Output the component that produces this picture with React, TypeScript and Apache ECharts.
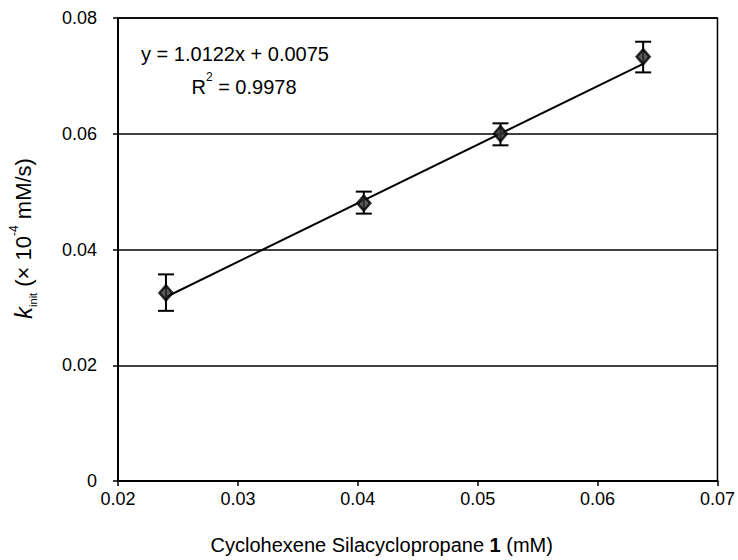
import React, { useEffect, useRef } from "react";
import * as echarts from "echarts";

const concX = [0.024, 0.0405, 0.0519, 0.0638];
const rateY = [0.0325, 0.0480, 0.0600, 0.0733];
const errLow = [0.0294, 0.0462, 0.0580, 0.0706];
const errHigh = [0.0357, 0.0500, 0.0618, 0.0759];
const fitSlope = 1.0122;
const fitIntercept = 0.0075;
const fitRange = [0.024, 0.0638];
const xTicks = [0.02, 0.03, 0.04, 0.05, 0.06, 0.07];
const yTicks = [0, 0.02, 0.04, 0.06, 0.08];

const FONT = "'Liberation Sans', Arial, sans-serif";

export default function App() {
  const ref = useRef<HTMLDivElement>(null);
  useEffect(() => {
    document.body.style.margin = "0";
    if (!ref.current) return;
    const chart = echarts.init(ref.current, null, { renderer: "svg" });
    const points = concX.map((x, i) => [x, rateY[i]]);
    const errData = concX.map((x, i) => [x, errLow[i], errHigh[i]]);
    const fitData = fitRange.map((x) => [x, fitSlope * x + fitIntercept]);
    chart.setOption({
      animation: false,
      backgroundColor: "#fff",
      textStyle: { fontFamily: FONT, color: "#000" },
      grid: {
        left: 112,
        right: 19,
        top: 18,
        bottom: 79,
        show: true,
        borderColor: "#000",
        borderWidth: 1.5,
      },
      xAxis: {
        type: "value",
        min: xTicks[0],
        max: xTicks[xTicks.length - 1],
        interval: 0.01,
        axisLine: { show: true, lineStyle: { color: "#000", width: 2 } },
        axisTick: { show: true, length: 5, lineStyle: { color: "#000", width: 1.5 } },
        splitLine: { show: false },
        axisLabel: {
          color: "#000",
          fontSize: 18,
          fontFamily: FONT,
          margin: 9,
          formatter: (v: number) => v.toFixed(2),
        },
        name: "{n|Cyclohexene Silacyclopropane }{b|1}{n| (mM)}",
        nameLocation: "middle",
        nameGap: 54,
        nameTextStyle: {
          fontFamily: FONT,
          color: "#000",
          fontSize: 20,
          padding: [0, 72, 0, 0],
          rich: {
            n: { fontSize: 20, fontFamily: FONT, color: "#000" },
            b: { fontSize: 20, fontFamily: FONT, color: "#000", fontWeight: "bold" },
          },
        },
      },
      yAxis: {
        type: "value",
        min: yTicks[0],
        max: yTicks[yTicks.length - 1],
        interval: 0.02,
        axisLine: { show: true, lineStyle: { color: "#000", width: 2 } },
        axisTick: { show: true, length: 5, lineStyle: { color: "#000", width: 1.5 } },
        splitLine: { show: true, lineStyle: { color: "#000", width: 1.5 } },
        axisLabel: {
          color: "#000",
          fontSize: 18,
          fontFamily: FONT,
          margin: 21,
          formatter: (v: number) => (v === 0 ? "0" : v.toFixed(2)),
        },
        name: "{k|k}{sub|init}{n| (× 10}{sup|-4}{n| mM/s)}",
        nameLocation: "middle",
        nameGap: 80,
        nameTextStyle: {
          fontFamily: FONT,
          color: "#000",
          fontSize: 22,
          padding: [0, 0, 0, 22],
          rich: {
            k: { fontSize: 24, fontStyle: "italic", fontFamily: FONT, color: "#000", lineHeight: 30, verticalAlign: "middle" },
            sub: { fontSize: 11, fontFamily: FONT, color: "#000", verticalAlign: "bottom", lineHeight: 30 },
            n: { fontSize: 22, fontFamily: FONT, color: "#000", lineHeight: 30, verticalAlign: "middle" },
            sup: { fontSize: 12, fontFamily: FONT, color: "#000", verticalAlign: "top", lineHeight: 30 },
          },
        },
      },
      series: [
        {
          type: "line",
          data: fitData,
          symbol: "none",
          lineStyle: { color: "#000", width: 2 },
          z: 2,
        },
        {
          type: "custom",
          data: errData,
          z: 3,
          renderItem: (params: any, api: any) => {
            const x = api.value(0);
            const lo = api.coord([x, api.value(1)]);
            const hi = api.coord([x, api.value(2)]);
            const cap = 8;
            const style = { stroke: "#000", lineWidth: 2 };
            return {
              type: "group",
              children: [
                { type: "line", shape: { x1: lo[0], y1: lo[1], x2: hi[0], y2: hi[1] }, style },
                { type: "line", shape: { x1: lo[0] - cap, y1: lo[1], x2: lo[0] + cap, y2: lo[1] }, style },
                { type: "line", shape: { x1: hi[0] - cap, y1: hi[1], x2: hi[0] + cap, y2: hi[1] }, style },
              ],
            };
          },
        },
        {
          type: "scatter",
          data: points,
          symbol: "diamond",
          symbolSize: [13, 15],
          itemStyle: { color: "#333", borderColor: "#000", borderWidth: 2.5 },
          z: 4,
        },
      ],
      graphic: [
        {
          type: "text",
          x: 235,
          y: 54,
          style: {
            text: "y = 1.0122x + 0.0075",
            fontSize: 20,
            fontFamily: FONT,
            fill: "#000",
            align: "center",
            verticalAlign: "middle",
          },
        },
        {
          type: "text",
          x: 244,
          y: 84,
          style: {
            text: "{n|R}{s|2}{n| = 0.9978}",
            fontFamily: FONT,
            fill: "#000",
            align: "center",
            verticalAlign: "middle",
            rich: {
              n: { fontSize: 20, fontFamily: FONT, fill: "#000", lineHeight: 26, verticalAlign: "bottom" },
              s: { fontSize: 12, fontFamily: FONT, fill: "#000", lineHeight: 26, verticalAlign: "top" },
            },
          },
        },
      ],
    });
    return () => chart.dispose();
  }, []);
  return <div ref={ref} style={{ width: 738, height: 560 }} />;
}
